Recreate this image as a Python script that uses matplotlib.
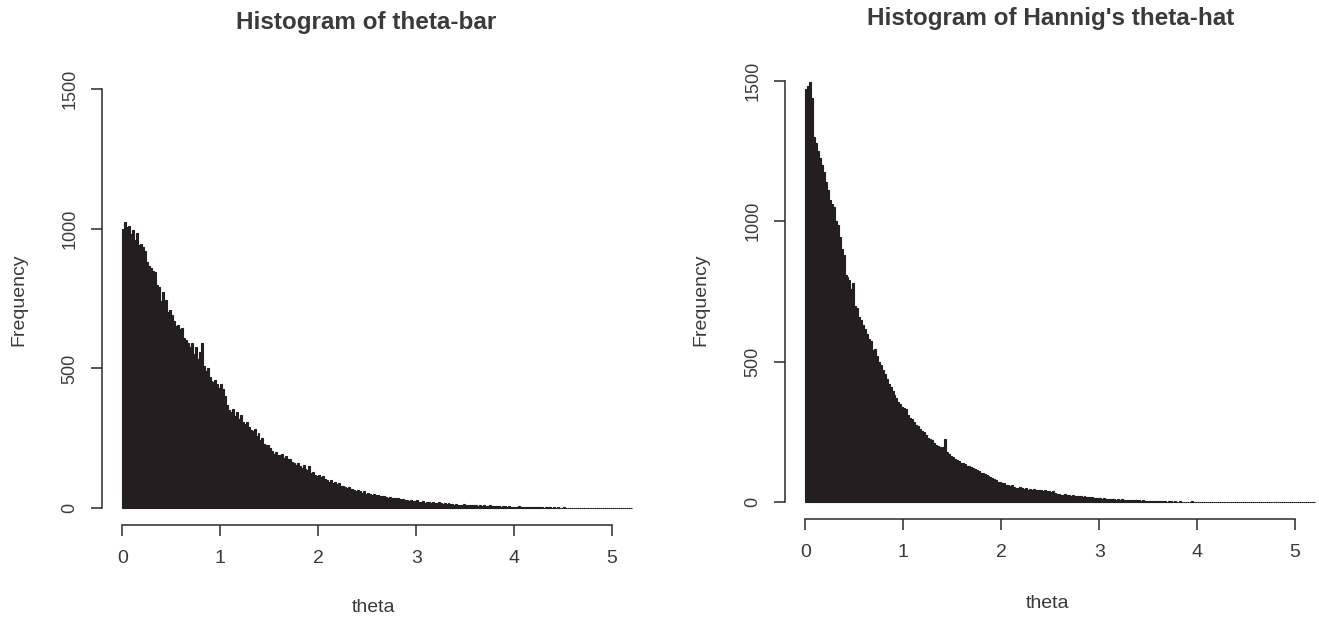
import numpy as np
import matplotlib
matplotlib.use("Agg")
import matplotlib.pyplot as plt

plt.rcParams['font.family'] = ['Liberation Sans', 'DejaVu Sans']

bin_width = 0.02
x_ticks = [0, 1, 2, 3, 4, 5]
y_ticks = [0, 500, 1000, 1500]

titles = ["Histogram of theta-bar", "Histogram of Hannig's theta-hat"]
x_label = "theta"
y_label = "Frequency"

# counts per bin of width 0.02 starting at 0
counts_bar = [
    1000, 1025, 1005, 1010, 980, 995, 960, 985, 940, 945,
    935, 920, 880, 865, 860, 850, 845, 800, 790, 740,
    775, 730, 745, 700, 710, 690, 670, 650, 655, 640,
    645, 610, 600, 590, 575, 590, 550, 575, 535, 560,
    590, 510, 490, 500, 470, 455, 450, 460, 445, 430,
    445, 425, 400, 370, 350, 345, 355, 330, 345, 320,
    335, 310, 300, 310, 290, 280, 275, 285, 260, 270,
    245, 250, 230, 225, 225, 215, 205, 195, 200, 190,
    190, 195, 180, 185, 175, 175, 165, 160, 155, 160,
    150, 145, 155, 140, 135, 150, 125, 130, 120, 115,
    120, 110, 115, 105, 100, 95, 100, 90, 95, 85,
    90, 80, 80, 75, 72, 75, 68, 70, 65, 62,
    65, 60, 55, 60, 52, 54, 50, 48, 52, 46,
    48, 44, 42, 45, 40, 38, 40, 36, 38, 35,
    36, 33, 30, 32, 28, 30, 27, 29, 25, 26,
    28, 24, 22, 25, 20, 23, 21, 19, 22, 20,
    18, 21, 17, 16, 19, 15, 17, 14, 16, 13,
    15, 12, 13, 11, 14, 10, 12, 11, 10, 12,
    10, 9, 11, 8, 10, 9, 8, 10, 7, 9,
    8, 7, 9, 6, 7, 8, 6, 7, 5, 6,
    6, 5, 7, 5, 4, 6, 5, 4, 5, 3,
    4, 3, 5, 3, 4, 2, 4, 3, 3, 2,
    3, 2, 3, 2, 2, 3, 1, 2, 2, 1,
    2, 1, 2, 1, 2, 1, 1, 2, 1, 1,
    1, 1, 0, 2, 1, 0, 1, 1, 0, 1,
    0, 1, 0, 0, 1, 0, 0, 0, 0, 0,
]

counts_hat = [
    1470, 1480, 1495, 1440, 1300, 1280, 1250, 1225, 1200, 1175,
    1140, 1110, 1075, 1060, 1050, 1000, 985, 945, 900, 880,
    810, 800, 790, 760, 780, 700, 690, 660, 650, 630,
    615, 600, 580, 575, 540, 545, 520, 500, 490, 470,
    455, 440, 420, 410, 395, 380, 370, 355, 350, 340,
    335, 330, 310, 300, 295, 285, 275, 270, 260, 255,
    250, 240, 230, 225, 220, 210, 205, 200, 195, 190,
    195, 225, 180, 170, 165, 160, 155, 150, 145, 140,
    140, 135, 130, 128, 125, 120, 118, 115, 110, 105,
    105, 100, 98, 92, 90, 85, 82, 78, 72, 70,
    67, 68, 62, 60, 58, 62, 55, 52, 50, 53,
    52, 48, 50, 45, 47, 44, 46, 42, 45, 43,
    45, 40, 42, 38, 40, 36, 38, 33, 30, 28,
    27, 26, 28, 24, 25, 23, 24, 22, 21, 23,
    21, 20, 22, 18, 20, 19, 17, 16, 15, 14,
    13, 12, 14, 11, 12, 10, 11, 10, 9, 10,
    9, 10, 8, 9, 7, 8, 7, 6, 7, 6,
    6, 5, 6, 5, 4, 5, 4, 4, 5, 3,
    4, 3, 3, 4, 2, 3, 3, 2, 3, 2,
    2, 3, 2, 1, 2, 2, 1, 3, 1, 2,
    1, 2, 1, 1, 2, 0, 1, 1, 0, 1,
    1, 0, 1, 0, 0, 1, 0, 0, 0, 1,
    0, 0, 0, 0, 0, 0, 0, 1, 0, 0,
    0, 0, 0, 0, 0, 0, 0, 0, 0, 0,
    0, 0, 0, 0, 0, 0, 0, 0, 0, 0,
    0, 0, 0, 0, 0, 0, 0, 0, 0, 0,
]

W, H = 1319, 625
fig = plt.figure(figsize=(W / 100, H / 100), dpi=100)

bar_color = "#231f20"
text_color = "#3a3a3a"
axis_color = "#2a2a2a"

xmin, xmax = -0.208, 5.408
ymin, ymax = -60, 1560

# axes rectangles in pixels: (left, top, right, bottom)
rects = [(102, 72, 652, 525), (785, 64, 1335, 519)]
title_pos = [(366, 22), (1051, 18)]
xlabel_pos = [(374, 607), (1048, 603)]
ylabel_pos = [(19, 300), (701, 300)]

for k, (counts, (l, t, r, b)) in enumerate(zip([counts_bar, counts_hat], rects)):
    ax = fig.add_axes([l / W, 1 - b / H, (r - l) / W, (b - t) / H])
    edges = np.arange(len(counts)) * bin_width
    ax.bar(edges, counts, width=bin_width, align='edge', color=bar_color,
           edgecolor=bar_color, linewidth=0.8)
    ax.set_xlim(xmin, xmax)
    ax.set_ylim(ymin, ymax)
    for s in ['top', 'right']:
        ax.spines[s].set_visible(False)
    ax.spines['left'].set_bounds(0, 1500)
    ax.spines['bottom'].set_bounds(0, 5)
    for s in ['left', 'bottom']:
        ax.spines[s].set_color(axis_color)
        ax.spines[s].set_linewidth(1.1)
    ax.set_xticks(x_ticks)
    ax.set_yticks(y_ticks)
    ax.set_xticklabels([str(v) for v in x_ticks], fontsize=14, color=text_color)
    ax.set_yticklabels([str(v) for v in y_ticks], fontsize=13, color=text_color,
                       rotation=90, va='center')
    ax.tick_params(axis='both', direction='out', length=8, width=1.1,
                   color=axis_color)
    ax.tick_params(axis='x', pad=10)
    ax.tick_params(axis='y', pad=9)
    tx, ty = title_pos[k]
    fig.text(tx / W, 1 - ty / H, titles[k], ha='center', va='center',
             fontsize=17.5, fontweight='bold', color=text_color)
    xx, xy = xlabel_pos[k]
    fig.text(xx / W, 1 - xy / H, x_label, ha='center', va='center',
             fontsize=14, color=text_color)
    yx, yy = ylabel_pos[k]
    fig.text(yx / W, 1 - yy / H, y_label, ha='center', va='center',
             rotation=90, fontsize=14, color=text_color)

fig.savefig("out.png", dpi=100)
